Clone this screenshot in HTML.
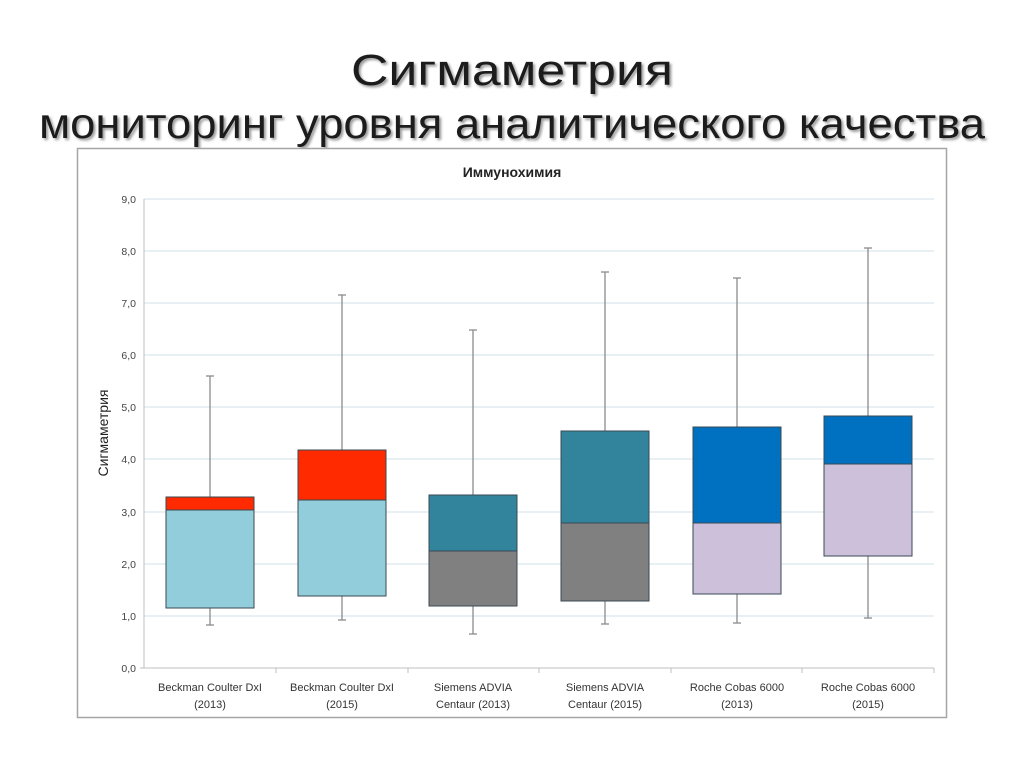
<!DOCTYPE html>
<html><head><meta charset="utf-8"><style>
html,body{margin:0;padding:0;background:#fff;}
</style></head><body>
<svg width="1024" height="767" xmlns="http://www.w3.org/2000/svg" font-family="Liberation Sans, DejaVu Sans, sans-serif">
<defs><filter id="sh"><feDropShadow dx="2" dy="2" stdDeviation="1.2" flood-color="#000" flood-opacity="0.4"/></filter></defs>
<text x="512" y="85" text-anchor="middle" font-size="44" fill="#1a1a1a" filter="url(#sh)" textLength="322" lengthAdjust="spacingAndGlyphs">Сигмаметрия</text>
<text x="512" y="138" text-anchor="middle" font-size="43" fill="#1a1a1a" filter="url(#sh)" textLength="946" lengthAdjust="spacingAndGlyphs">мониторинг уровня аналитического качества</text>
<rect x="77.5" y="148.5" width="869" height="569" fill="#fff" stroke="#a6a6a6" stroke-width="1.5"/>
<text x="512" y="177" text-anchor="middle" font-size="14" font-weight="bold" fill="#222">Иммунохимия</text>
<g stroke="#dce6ec" stroke-width="1.2">
<line x1="144" x2="934" y1="199" y2="199"/><line x1="144" x2="934" y1="251" y2="251"/>
<line x1="144" x2="934" y1="303" y2="303"/><line x1="144" x2="934" y1="355" y2="355"/>
<line x1="144" x2="934" y1="407" y2="407"/><line x1="144" x2="934" y1="459" y2="459"/>
<line x1="144" x2="934" y1="512" y2="512"/><line x1="144" x2="934" y1="564" y2="564"/>
<line x1="144" x2="934" y1="616" y2="616"/>
</g>
<g stroke="#bfbfbf" stroke-width="1">
<line x1="144" x2="144" y1="199" y2="668"/><line x1="140" x2="934" y1="668" y2="668"/>
<line x1="276" x2="276" y1="668" y2="673"/><line x1="408" x2="408" y1="668" y2="673"/>
<line x1="539" x2="539" y1="668" y2="673"/><line x1="671" x2="671" y1="668" y2="673"/>
<line x1="802" x2="802" y1="668" y2="673"/><line x1="934" x2="934" y1="668" y2="673"/>
</g>
<g font-size="10.5" fill="#444" text-anchor="end">
<text x="136" y="203">9,0</text><text x="136" y="255">8,0</text><text x="136" y="307">7,0</text>
<text x="136" y="359">6,0</text><text x="136" y="411">5,0</text><text x="136" y="463">4,0</text>
<text x="136" y="516">3,0</text><text x="136" y="568">2,0</text><text x="136" y="620">1,0</text>
<text x="136" y="672">0,0</text>
</g>
<text transform="translate(108,433) rotate(-90)" text-anchor="middle" font-size="14" fill="#222">Сигмаметрия</text>
<g stroke="#8c8c8c" stroke-width="1.3">
<line x1="210" x2="210" y1="376" y2="625"/><line x1="206" x2="214" y1="376" y2="376"/><line x1="206" x2="214" y1="625" y2="625"/>
<line x1="342" x2="342" y1="295" y2="620"/><line x1="338" x2="346" y1="295" y2="295"/><line x1="338" x2="346" y1="620" y2="620"/>
<line x1="473" x2="473" y1="330" y2="634"/><line x1="469" x2="477" y1="330" y2="330"/><line x1="469" x2="477" y1="634" y2="634"/>
<line x1="605" x2="605" y1="272" y2="624"/><line x1="601" x2="609" y1="272" y2="272"/><line x1="601" x2="609" y1="624" y2="624"/>
<line x1="737" x2="737" y1="278" y2="623"/><line x1="733" x2="741" y1="278" y2="278"/><line x1="733" x2="741" y1="623" y2="623"/>
<line x1="868" x2="868" y1="248" y2="618"/><line x1="864" x2="872" y1="248" y2="248"/><line x1="864" x2="872" y1="618" y2="618"/>
</g>
<g stroke="#3a4a55" stroke-width="1">
<rect x="166" y="497" width="88" height="13" fill="#ff2a00"/>
<rect x="166" y="510" width="88" height="98" fill="#92cddc"/>
<rect x="298" y="450" width="88" height="50" fill="#ff2a00"/>
<rect x="298" y="500" width="88" height="96" fill="#92cddc"/>
<rect x="429" y="495" width="88" height="56" fill="#31849b"/>
<rect x="429" y="551" width="88" height="55" fill="#808080"/>
<rect x="561" y="431" width="88" height="92" fill="#31849b"/>
<rect x="561" y="523" width="88" height="78" fill="#808080"/>
<rect x="693" y="427" width="88" height="96" fill="#0070c0"/>
<rect x="693" y="523" width="88" height="71" fill="#ccc0da"/>
<rect x="824" y="416" width="88" height="48" fill="#0070c0"/>
<rect x="824" y="464" width="88" height="92" fill="#ccc0da"/>
</g>
<g font-size="11" fill="#333" text-anchor="middle">
<text x="210" y="691">Beckman Coulter DxI</text><text x="210" y="708">(2013)</text>
<text x="342" y="691">Beckman Coulter DxI</text><text x="342" y="708">(2015)</text>
<text x="473" y="691">Siemens ADVIA</text><text x="473" y="708">Centaur (2013)</text>
<text x="605" y="691">Siemens ADVIA</text><text x="605" y="708">Centaur (2015)</text>
<text x="737" y="691">Roche Cobas 6000</text><text x="737" y="708">(2013)</text>
<text x="868" y="691">Roche Cobas 6000</text><text x="868" y="708">(2015)</text>
</g>
</svg>
</body></html>
